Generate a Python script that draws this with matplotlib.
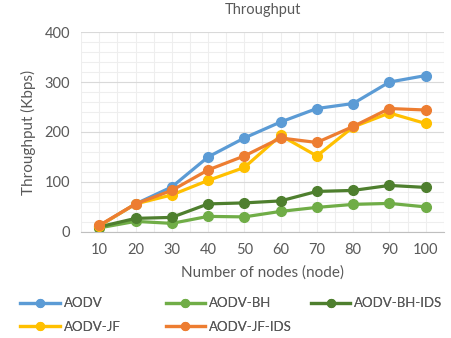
import numpy as np
import matplotlib.pyplot as plt
from matplotlib.ticker import MultipleLocator

plt.rcParams['font.family'] = ['Lato', 'DejaVu Sans']

nodes = ['10', '20', '30', '40', '50', '60', '70', '80', '90', '100']
aodv = [12, 56, 90, 150, 188, 220, 247, 257, 300, 313]
aodv_bh = [8, 21, 17, 31, 30, 41, 49, 55, 57, 50]
aodv_bh_ids = [10, 27, 29, 56, 58, 62, 81, 83, 93, 89]
aodv_jf = [12, 56, 74, 103, 129, 193, 152, 210, 238, 217]
aodv_jf_ids = [13, 56, 83, 124, 152, 188, 179, 211, 247, 244]

series = [
    ('AODV', aodv, '#5B9BD5'),
    ('AODV-BH', aodv_bh, '#70AD47'),
    ('AODV-BH-IDS', aodv_bh_ids, '#4E7F2E'),
    ('AODV-JF', aodv_jf, '#FFC000'),
    ('AODV-JF-IDS', aodv_jf_ids, '#ED7D31'),
]

fig = plt.figure(figsize=(4.51, 3.38), dpi=100)
ax = fig.add_axes([0.18, 0.314, 0.804, 0.591])

x = np.arange(len(nodes))
lines = []
for name, vals, col in series:
    ln, = ax.plot(x, vals, '-o', color=col, lw=2.3, ms=7, label=name)
    lines.append(ln)

ax.set_xlim(-0.5, len(nodes) - 0.5)
ax.set_ylim(0, 400)
ax.set_xticks(x)
ax.set_xticklabels(nodes)
ax.set_xticks(np.arange(-0.5, len(nodes), 0.5), minor=True)
ax.yaxis.set_major_locator(MultipleLocator(100))
ax.yaxis.set_minor_locator(MultipleLocator(20))
ax.grid(which='minor', color='#EEEEEE', lw=0.8)
ax.grid(which='major', axis='y', color='#D9D9D9', lw=0.8)
ax.grid(which='major', axis='x', color='#EEEEEE', lw=0.8)
ax.set_axisbelow(True)
for s in ['top', 'right', 'left']:
    ax.spines[s].set_visible(False)
ax.spines['bottom'].set_color('#BFBFBF')
ax.tick_params(which='both', length=0, labelsize=10.5, colors='#595959', pad=8)

ax.set_title('Throughput', fontsize=10.5, color='#595959', pad=13)
ax.set_xlabel('Number of nodes (node)', fontsize=11, color='#595959', labelpad=6)
ax.set_ylabel('Throughput (Kbps)', fontsize=11, color='#595959', labelpad=6)

# legend laid out row by row like Excel: three equal columns
cols = [[0, 3], [1, 4], [2]]
xpos = [0.045, 0.367, 0.689]
for idx, xp in zip(cols, xpos):
    leg = fig.legend([lines[i] for i in idx], [series[i][0] for i in idx],
                     loc='upper left', bbox_to_anchor=(xp, 0.12), frameon=False,
                     fontsize=9.5, labelcolor='#595959', handlelength=3,
                     handletextpad=0.3, labelspacing=0.85, borderaxespad=0,
                     borderpad=0, markerscale=0.8)
    fig.add_artist(leg)

fig.savefig('out.png', dpi=100)
